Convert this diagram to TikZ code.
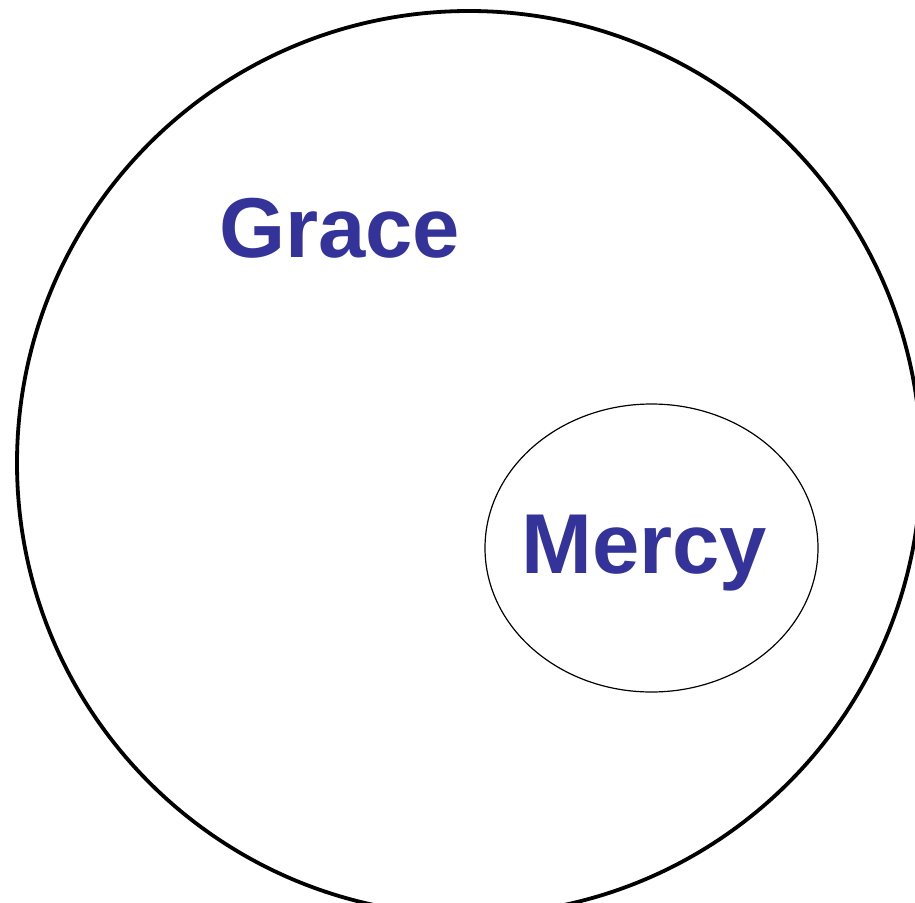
\documentclass[tikz,border=0pt]{standalone}
\usepackage{fontspec}
\setmainfont{Liberation Sans}
\usepackage{xcolor}
\definecolor{setblue}{RGB}{51,51,153}

\begin{document}
\begin{tikzpicture}[x=1pt, y=-1pt,
  setname/.style={anchor=base west, inner sep=0pt, text=setblue,
                  font=\fontsize{85}{85}\selectfont\bfseries}]
  \useasboundingbox (0,0) rectangle (915,902);
  % outer set and inner set
  \draw[line width=3.8pt] (469,463) circle[radius=452];
  \draw[line width=1.2pt] (651.5,548) ellipse[x radius=166.5, y radius=144];
  \node[setname] (grace) at (219,257) {Grace};
  \node[setname] (mercy) at (521,573) {Mercy};
\end{tikzpicture}
\end{document}
